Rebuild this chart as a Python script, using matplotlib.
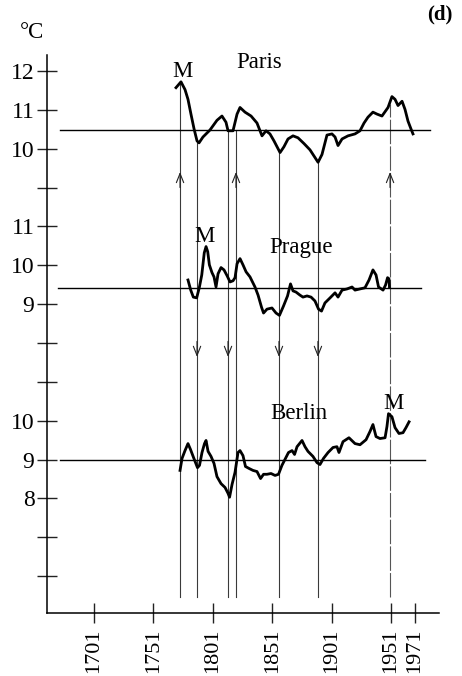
import numpy as np
import matplotlib
matplotlib.use("Agg")
import matplotlib.pyplot as plt

plt.rcParams["font.family"] = ["Liberation Serif", "DejaVu Serif"]

# smoothed annual mean temperature (deg C)
paris_years = [1770.0, 1774.2, 1777.6, 1780.1, 1782.6, 1785.2, 1787.7, 1789.4, 1792.7, 1798.6,
               1804.5, 1808.7, 1812.1, 1813.8, 1818.0, 1821.4, 1823.9, 1828.1, 1833.2, 1838.2,
               1842.4, 1845.8, 1849.1, 1852.5, 1857.6, 1860.9, 1864.3, 1868.5, 1872.7, 1877.8,
               1882.8, 1889.6, 1892.9, 1897.1, 1901.3, 1903.9, 1906.4, 1909.8, 1914.8, 1920.7,
               1924.9, 1928.3, 1931.6, 1935.8, 1939.2, 1943.4, 1948.5, 1951.8, 1954.4, 1956.9,
               1960.3, 1962.8, 1965.3, 1967.8, 1969.5]
paris_temp = [11.57, 11.72, 11.52, 11.27, 10.89, 10.51, 10.20, 10.15, 10.30, 10.48,
              10.73, 10.84, 10.68, 10.46, 10.46, 10.89, 11.06, 10.94, 10.84, 10.66,
              10.33, 10.46, 10.38, 10.20, 9.90, 10.05, 10.25, 10.33, 10.28, 10.13,
              9.97, 9.65, 9.85, 10.35, 10.38, 10.30, 10.08, 10.25, 10.33, 10.38,
              10.46, 10.66, 10.81, 10.94, 10.89, 10.84, 11.06, 11.34, 11.27, 11.11,
              11.22, 11.01, 10.71, 10.51, 10.38]

prague_years = [1780.1, 1782.4, 1784.6, 1787.4, 1789.6, 1791.7, 1793.8, 1795.3, 1796.7, 1798.1,
                1800.3, 1802.0, 1803.7, 1805.4, 1807.9, 1810.4, 1813.0, 1815.5, 1818.0, 1819.7,
                1821.4, 1823.9, 1826.4, 1829.0, 1832.3, 1836.5, 1839.1, 1842.0, 1843.7, 1846.6,
                1850.8, 1854.2, 1857.1, 1860.5, 1863.9, 1866.4, 1868.5, 1871.0, 1874.4, 1876.9,
                1880.3, 1883.7, 1887.0, 1890.0, 1892.5, 1895.4, 1899.7, 1903.9, 1906.4, 1909.8,
                1914.0, 1918.2, 1920.7, 1924.9, 1929.1, 1932.5, 1935.8, 1938.4, 1940.5, 1944.3,
                1946.4, 1948.1, 1949.3, 1949.7]
prague_temp = [9.62, 9.36, 9.18, 9.16, 9.42, 9.75, 10.32, 10.48, 10.35, 10.01,
               9.81, 9.70, 9.44, 9.78, 9.94, 9.88, 9.73, 9.57, 9.60, 9.68,
               10.04, 10.17, 10.01, 9.83, 9.70, 9.44, 9.23, 8.92, 8.77, 8.87,
               8.90, 8.77, 8.71, 8.95, 9.21, 9.52, 9.34, 9.31, 9.23, 9.18,
               9.21, 9.18, 9.08, 8.87, 8.82, 9.03, 9.16, 9.29, 9.18, 9.36,
               9.39, 9.44, 9.36, 9.39, 9.42, 9.62, 9.88, 9.75, 9.44, 9.36,
               9.49, 9.68, 9.65, 9.44]

berlin_years = [1773.4, 1775.1, 1777.6, 1780.1, 1782.2, 1784.8, 1788.1, 1789.8, 1791.9, 1794.0,
                1795.3, 1797.0, 1799.5, 1802.0, 1804.5, 1807.9, 1811.3, 1813.8, 1815.1, 1817.2,
                1819.7, 1822.2, 1823.9, 1826.4, 1828.5, 1831.5, 1834.8, 1838.2, 1841.2, 1843.7,
                1846.6, 1850.0, 1853.4, 1856.3, 1859.2, 1862.2, 1864.7, 1867.7, 1869.8, 1871.9,
                1876.1, 1878.6, 1881.1, 1885.3, 1888.7, 1891.2, 1894.2, 1898.0, 1902.2, 1905.5,
                1907.2, 1910.6, 1915.6, 1920.7, 1924.9, 1930.0, 1933.3, 1935.8, 1938.4, 1941.7,
                1946.0, 1947.6, 1948.9, 1951.8, 1954.4, 1957.7, 1961.1, 1963.6, 1966.2]
berlin_temp = [8.72, 9.03, 9.23, 9.41, 9.26, 9.05, 8.79, 8.85, 9.18, 9.41,
               9.49, 9.21, 9.08, 8.90, 8.56, 8.38, 8.28, 8.13, 8.03, 8.36,
               8.67, 9.18, 9.23, 9.10, 8.82, 8.77, 8.72, 8.69, 8.51, 8.62,
               8.62, 8.64, 8.59, 8.62, 8.85, 9.03, 9.18, 9.23, 9.13, 9.33,
               9.49, 9.33, 9.21, 9.08, 8.92, 8.87, 9.03, 9.18, 9.31, 9.33,
               9.18, 9.46, 9.56, 9.41, 9.38, 9.51, 9.72, 9.90, 9.59, 9.54,
               9.56, 9.85, 10.18, 10.10, 9.82, 9.67, 9.69, 9.82, 9.97]

# long-term means drawn as horizontal reference lines
paris_mean = 10.48
prague_mean = 9.42
berlin_mean = 8.98

# marker years linking the three records, with the Paris value where each starts
event_years = [1773.4, 1787.7, 1813.8, 1820.5, 1856.7, 1889.5, 1950.2]
event_top_paris = [11.68, 10.18, 10.46, 10.46, 9.92, 9.67, 11.15]
event_dir = ["up", "down", "down", "up", "down", "down", "up"]

year_ticks = [1701, 1751, 1801, 1851, 1901, 1951, 1971]
paris_ticks = [10, 11, 12]
prague_ticks = [9, 10, 11]
berlin_ticks = [8, 9, 10]

# each record is shifted onto one stacked axis (10 deg C -> row position)
SHIFT = {"paris": 1, "prague": -2, "berlin": -6}

fig = plt.figure(figsize=(4.62, 6.76), dpi=100)
ax = fig.add_axes([0.1017, 0.0932, 0.8485, 0.8254])
ax.set_xlim(1661.4, 1991.4)
ax.set_ylim(-0.95, 13.41)

for s in ("top", "right"):
    ax.spines[s].set_visible(False)
for s in ("left", "bottom"):
    ax.spines[s].set_linewidth(1.1)

# vertical connector lines
bottom = -0.54
for i, (yr, top) in enumerate(zip(event_years, event_top_paris)):
    style = dict(color="#3a3a3a", lw=0.8)
    if yr > 1940:
        style = dict(color="#555555", lw=0.8, dashes=(22, 2))
    ax.plot([yr, yr], [bottom, top + SHIFT["paris"]], **style)
    if event_dir[i] == "up":
        tip, tail = 10.40, 10.00
    else:
        tip, tail = 5.64, 6.04
    ax.annotate("", xy=(yr, tip), xytext=(yr, tail),
                arrowprops=dict(arrowstyle="->,head_length=0.55,head_width=0.22",
                                lw=0.8, color="#222222", mutation_scale=12,
                                shrinkA=0, shrinkB=0))

# mean lines
ax.plot([1672, 1984], [paris_mean + SHIFT["paris"]] * 2, color="black", lw=1.0)
ax.plot([1671, 1976], [prague_mean + SHIFT["prague"]] * 2, color="black", lw=1.0)
ax.plot([1672, 1980], [berlin_mean + SHIFT["berlin"]] * 2, color="black", lw=1.0)

# temperature curves
ax.plot(paris_years, np.array(paris_temp) + SHIFT["paris"], color="black", lw=2.0,
        solid_joinstyle="round")
ax.plot(prague_years, np.array(prague_temp) + SHIFT["prague"], color="black", lw=2.0,
        solid_joinstyle="round")
ax.plot(berlin_years, np.array(berlin_temp) + SHIFT["berlin"], color="black", lw=2.0,
        solid_joinstyle="round")

# y ticks: labelled rows per city plus blank spacer rows
yt, yl = [], []
for name, vals in (("paris", paris_ticks), ("prague", prague_ticks), ("berlin", berlin_ticks)):
    for v in vals:
        yt.append(v + SHIFT[name])
        yl.append(str(v))
for k in (0, 1, 5, 6, 10):
    yt.append(k)
    yl.append("")
ax.set_yticks(yt)
ax.set_yticklabels(yl, fontsize=17)
ax.set_xticks(year_ticks)
ax.set_xticklabels([str(y) for y in year_ticks], rotation=90, fontsize=16)
ax.tick_params(axis="both", direction="inout", length=14, width=1.0, color="#222222")
ax.tick_params(axis="y", pad=2)
ax.tick_params(axis="x", pad=4)

lbl = dict(fontsize=16.5, ha="center", va="baseline")
ax.text(1840.3, 13.08, "Paris", **lbl)
ax.text(1775.1, 12.84, "M", **lbl)
ax.text(1875.2, 8.31, "Prague", **lbl)
ax.text(1793.6, 8.60, "M", **lbl)
ax.text(1873.6, 4.04, "Berlin", **lbl)
ax.text(1952.7, 4.29, "M", **lbl)

fig.text(0.042, 0.952, "°C", fontsize=16.5, ha="left", va="center")
fig.text(0.952, 0.978, "(d)", fontsize=15, fontweight="bold", ha="center", va="center")

fig.savefig("out.png", dpi=100)
